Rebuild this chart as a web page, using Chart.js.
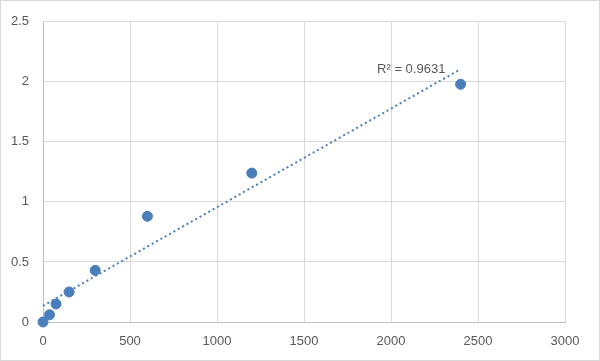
<!DOCTYPE html>
<html>
<head>
<meta charset="utf-8">
<script src="https://cdn.jsdelivr.net/npm/chart.js@4/dist/chart.umd.min.js"></script>
<style>
html,body{margin:0;padding:0;background:#fff;}
#wrap{width:600px;height:361px;position:relative;}
</style>
</head>
<body>
<div id="wrap"><canvas id="c" width="600" height="361"></canvas></div>
<script>
// Data
const concentrations = [0, 37.5, 75, 150, 300, 600, 1200, 2400];
const absorbances = [0.0, 0.06, 0.15, 0.25, 0.43, 0.88, 1.24, 1.98];
const xTicks = [0, 500, 1000, 1500, 2000, 2500, 3000];
const yTicks = [0, 0.5, 1, 1.5, 2, 2.5];
const rSquaredLabel = "R² = 0.9631";

// Linear trendline (least squares) from the data
const n = concentrations.length;
const mx = concentrations.reduce((a,b)=>a+b,0)/n;
const my = absorbances.reduce((a,b)=>a+b,0)/n;
let sxy = 0, sxx = 0;
for (let i=0;i<n;i++){ sxy += (concentrations[i]-mx)*(absorbances[i]-my); sxx += (concentrations[i]-mx)**2; }
const slope = sxy/sxx, intercept = my - slope*mx;
const xMin = Math.min(...concentrations), xMax = Math.max(...concentrations);
const trend = [{x:xMin, y:intercept+slope*xMin},{x:xMax, y:intercept+slope*xMax}];

const color = '#4a7ebb';
const tickFont = {family:'"Liberation Sans", Arial, sans-serif', size:13};

const decor = {
  id:'decor',
  beforeDraw(chart){
    const ctx = chart.ctx;
    ctx.save();
    ctx.fillStyle = '#fff';
    ctx.fillRect(0,0,chart.width,chart.height);
    ctx.strokeStyle = '#d9d9d9';
    ctx.lineWidth = 1;
    ctx.strokeRect(0.5,0.5,chart.width-1,chart.height-1);
    ctx.restore();
  },
  afterDatasetsDraw(chart){
    const ctx = chart.ctx;
    const xs = chart.scales.x, ys = chart.scales.y;
    ctx.save();
    ctx.font = '13px "Liberation Sans", Arial, sans-serif';
    ctx.fillStyle = '#595959';
    ctx.textAlign = 'left';
    ctx.textBaseline = 'middle';
    ctx.fillText(rSquaredLabel, xs.getPixelForValue(1920), ys.getPixelForValue(2.1));
    ctx.restore();
  }
};

new Chart(document.getElementById('c'), {
  type:'scatter',
  data:{
    datasets:[
      {
        label:'Trend',
        type:'line',
        data:trend,
        borderColor:color,
        borderWidth:2,
        borderDash:[2,3],
        pointRadius:0,
        fill:false,
        clip:false,
        order:2
      },
      {
        label:'Data',
        data:concentrations.map((x,i)=>({x, y:absorbances[i]})),
        backgroundColor:color,
        borderColor:color,
        pointRadius:5,
        pointHoverRadius:5,
        clip:false,
        order:1
      }
    ]
  },
  options:{
    responsive:false,
    devicePixelRatio:1,
    animation:false,
    events:[],
    layout:{padding:{top:19, right:35, left:0, bottom:0}},
    plugins:{legend:{display:false}, tooltip:{enabled:false}},
    scales:{
      x:{
        type:'linear', min:0, max:3000,
        afterBuildTicks(s){ s.ticks = xTicks.map(v=>({value:v})); },
        afterFit(s){ s.height = 39; },
        grid:{color:'#d9d9d9', drawTicks:false, lineWidth:1},
        border:{color:'#bfbfbf', width:1},
        ticks:{color:'#595959', font:tickFont, padding:12, maxRotation:0, callback:v=>String(v)}
      },
      y:{
        type:'linear', min:0, max:2.5,
        afterBuildTicks(s){ s.ticks = yTicks.map(v=>({value:v})); },
        afterFit(s){ s.width = 43; },
        grid:{color:'#d9d9d9', drawTicks:false, lineWidth:1},
        border:{color:'#bfbfbf', width:1},
        ticks:{color:'#595959', font:tickFont, padding:14, callback:v=>String(v)}
      }
    }
  },
  plugins:[decor]
});
</script>
</body>
</html>
